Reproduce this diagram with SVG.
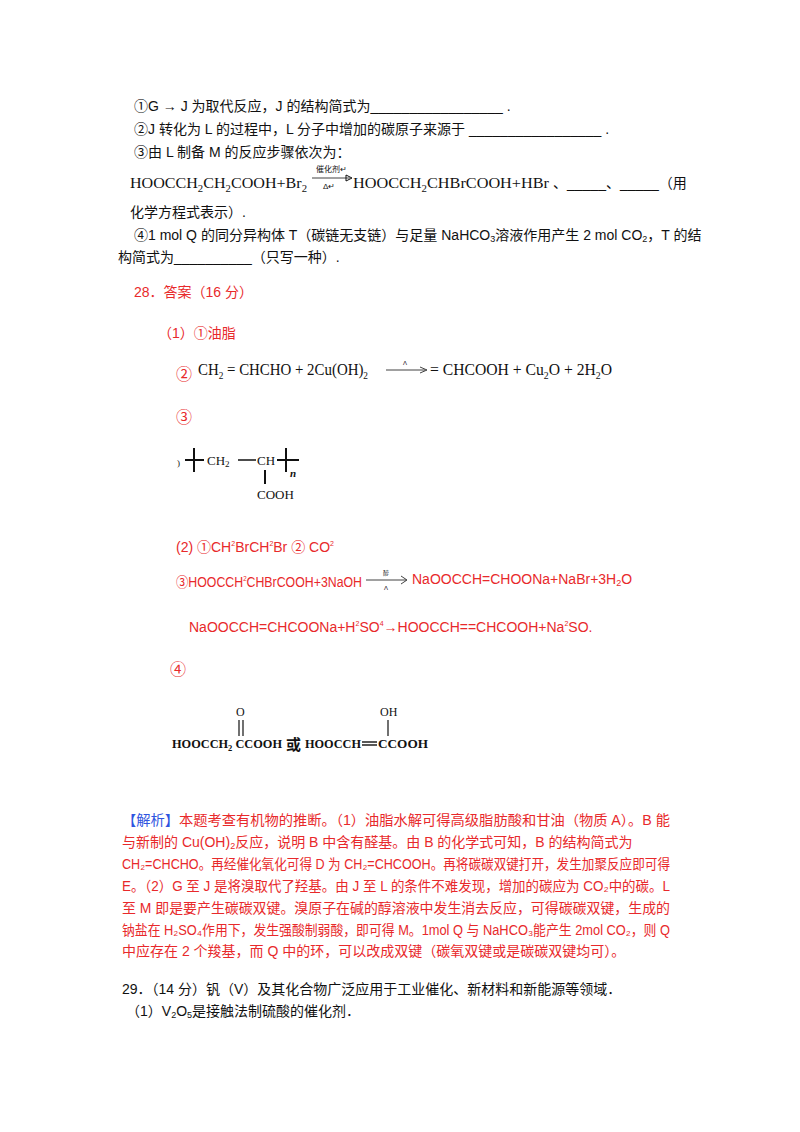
<svg xmlns="http://www.w3.org/2000/svg" width="800" height="1132" viewBox="0 0 800 1132">
<style>
svg{font-size:14px}
text{font-family:"Liberation Sans","Noto Sans CJK SC",sans-serif;fill:#111}
.s{font-family:"Liberation Serif","Noto Sans CJK SC",serif}
.r{fill:#e8292b}
.b{fill:#2f55e0}
line,path{stroke:#111;fill:none}
</style>
<rect width="800" height="1132" fill="#fff"/>
<text x="134" y="111">①G → J 为取代反应，J 的结构简式为_________________ .</text>
<text x="134" y="134">②J 转化为 L 的过程中，L 分子中增加的碳原子来源于 _________________ .</text>
<text x="134" y="157">③由 L 制备 M 的反应步骤依次为：</text>
<text class="s" x="130" y="188" font-size="15" textLength="177" lengthAdjust="spacingAndGlyphs">HOOCCH<tspan dy="4" font-size="10">2</tspan><tspan dy="-4">CH</tspan><tspan dy="4" font-size="10">2</tspan><tspan dy="-4">COOH+Br</tspan><tspan dy="4" font-size="10">2</tspan></text>
<text x="316" y="172" font-size="8">催化剂↵</text>
<line x1="312" y1="178" x2="350" y2="178" stroke-width="0.8"/>
<path d="M346,175 L352,178 L346,181 Z" fill="#111"/>
<text x="323" y="189" font-size="8">Δ↵</text>
<text class="s" x="353" y="188" font-size="15" textLength="196" lengthAdjust="spacingAndGlyphs">HOOCCH<tspan dy="4" font-size="10">2</tspan><tspan dy="-4">CHBrCOOH+HBr</tspan></text>
<text x="553" y="188">、_____、_____（用</text>
<text x="130" y="217">化学方程式表示）.</text>
<text x="134" y="240">④1 mol Q 的同分异构体 T（碳链无支链）与足量 NaHCO<tspan font-size="9" dy="2">3</tspan><tspan dy="-2">溶液作用产生 2 mol CO</tspan><tspan font-size="9" dy="2">2</tspan><tspan dy="-2">，T 的结</tspan></text>
<text x="118" y="262">构简式为__________（只写一种）.</text>
<text class="r" x="134" y="297">28．答案（16 分）</text>
<text class="r" x="158" y="338">（1）①油脂</text>
<text class="r" x="176" y="380" font-size="16">②</text>
<text class="s" x="198" y="375" font-size="16" textLength="170" lengthAdjust="spacingAndGlyphs">CH<tspan font-size="10" dy="4">2</tspan><tspan dy="-4"> = CHCHO + 2Cu(OH)</tspan><tspan font-size="10" dy="4">2</tspan></text>
<text x="403" y="365" font-size="6">Λ</text>
<line x1="386" y1="370" x2="425" y2="370" stroke-width="0.8"/>
<path d="M420,367 L427,370 L420,373" stroke-width="0.8"/>
<text class="s" x="430" y="375" font-size="16" textLength="182" lengthAdjust="spacingAndGlyphs">= CHCOOH + Cu<tspan font-size="10" dy="4">2</tspan><tspan dy="-4">O + 2H</tspan><tspan font-size="10" dy="4">2</tspan><tspan dy="-4">O</tspan></text>
<text class="r" x="176" y="423" font-size="16">③</text>
<g>
<text class="s" x="177" y="466" font-size="9">)</text>
<line x1="185" y1="460" x2="204" y2="460" stroke-width="2"/>
<line x1="194" y1="448" x2="194" y2="472" stroke-width="2"/>
<text class="s" x="207" y="465" font-size="13">CH<tspan font-size="9" dy="2">2</tspan></text>
<line x1="238" y1="460" x2="256" y2="460" stroke-width="1.5"/>
<text class="s" x="257" y="465" font-size="13">CH</text>
<line x1="277" y1="460" x2="299" y2="460" stroke-width="2"/>
<line x1="286" y1="448" x2="286" y2="472" stroke-width="2"/>
<text class="s" x="290" y="477" font-size="11" font-style="italic" font-weight="bold">n</text>
<line x1="265" y1="470" x2="265" y2="484" stroke-width="2"/>
<text class="s" x="257" y="499" font-size="13">COOH</text>
</g>
<text class="r" x="176" y="552">(2) ①CH<tspan font-size="7" dy="-6">2</tspan><tspan dy="6">BrCH</tspan><tspan font-size="7" dy="-6">2</tspan><tspan dy="6">Br    ② CO</tspan><tspan font-size="7" dy="-6">2</tspan></text>
<text class="r" x="176" y="587" textLength="186" lengthAdjust="spacingAndGlyphs">③HOOCCH<tspan font-size="7" dy="-6">2</tspan><tspan dy="6">CHBrCOOH+3NaOH</tspan></text>
<text x="383" y="575" font-size="6" fill="#666">醇</text>
<line x1="366" y1="580" x2="406" y2="580" stroke-width="0.8"/>
<path d="M401,576 L407,580 L401,584" stroke-width="0.8"/>
<text x="384" y="590" font-size="6" fill="#666">Λ</text>
<text class="r" x="412" y="584">NaOOCCH=CHOONa+NaBr+3H<tspan font-size="9" dy="2">2</tspan><tspan dy="-2">O</tspan></text>
<text class="r" x="189" y="632">NaOOCCH=CHCOONa+H<tspan font-size="7" dy="-6">2</tspan><tspan dy="6">SO</tspan><tspan font-size="7" dy="-6">4</tspan><tspan dy="6">→HOOCCH==CHCOOH+Na</tspan><tspan font-size="7" dy="-6">2</tspan><tspan dy="6">SO.</tspan></text>
<text class="r" x="170" y="675" font-size="16">④</text>
<g>
<text class="s" x="172" y="748" font-size="13" font-weight="bold" textLength="110" lengthAdjust="spacingAndGlyphs">HOOCCH<tspan font-size="9" dy="3">2</tspan><tspan dy="-3"> CCOOH</tspan></text>
<text class="s" x="236" y="716" font-size="12">O</text>
<line x1="239" y1="720" x2="239" y2="736" stroke-width="1.2"/>
<line x1="243" y1="720" x2="243" y2="736" stroke-width="1.2"/>
<text x="286" y="750" font-size="15" font-weight="bold">或</text>
<text class="s" x="305" y="748" font-size="13" font-weight="bold" textLength="56" lengthAdjust="spacingAndGlyphs">HOOCCH</text>
<line x1="362" y1="742" x2="377" y2="742" stroke-width="1.4"/>
<line x1="362" y1="745" x2="377" y2="745" stroke-width="1.4"/>
<text class="s" x="378" y="748" font-size="13" font-weight="bold" textLength="50" lengthAdjust="spacingAndGlyphs">CCOOH</text>
<text class="s" x="380" y="716" font-size="12">OH</text>
<line x1="388" y1="720" x2="388" y2="736" stroke-width="1.2"/>
</g>
<g>
<text x="122" y="825" textLength="548" lengthAdjust="spacingAndGlyphs"><tspan class="b">【解析】</tspan><tspan class="r">本题考查有机物的推断。（1）油脂水解可得高级脂肪酸和甘油（物质 A）。B 能</tspan></text>
<text class="r" x="122" y="847">与新制的 Cu(OH)<tspan font-size="9" dy="2">2</tspan><tspan dy="-2">反应，说明 B 中含有醛基。由 B 的化学式可知，B 的结构简式为</tspan></text>
<text class="r" x="122" y="869" textLength="548" lengthAdjust="spacingAndGlyphs">CH₂=CHCHO。再经催化氧化可得 D 为 CH₂=CHCOOH。再将碳碳双键打开，发生加聚反应即可得</text>
<text class="r" x="122" y="891" textLength="548" lengthAdjust="spacingAndGlyphs">E。（2）G 至 J 是将溴取代了羟基。由 J 至 L 的条件不难发现，增加的碳应为 CO₂中的碳。L</text>
<text class="r" x="122" y="913" textLength="548" lengthAdjust="spacingAndGlyphs">至 M 即是要产生碳碳双键。溴原子在碱的醇溶液中发生消去反应，可得碳碳双键，生成的</text>
<text class="r" x="122" y="935" textLength="548" lengthAdjust="spacingAndGlyphs">钠盐在 H₂SO₄作用下，发生强酸制弱酸，即可得 M。1mol Q 与 NaHCO₃能产生 2mol CO₂，则 Q</text>
<text class="r" x="122" y="956">中应存在 2 个羧基，而 Q 中的环，可以改成双键（碳氧双键或是碳碳双键均可）。</text>
</g>
<text x="122" y="994">29．（14 分）钒（V）及其化合物广泛应用于工业催化、新材料和新能源等领域．</text>
<text x="126" y="1016">（1）V<tspan font-size="9" dy="2">2</tspan><tspan dy="-2">O</tspan><tspan font-size="9" dy="2">5</tspan><tspan dy="-2">是接触法制硫酸的催化剂．</tspan></text>
</svg>
